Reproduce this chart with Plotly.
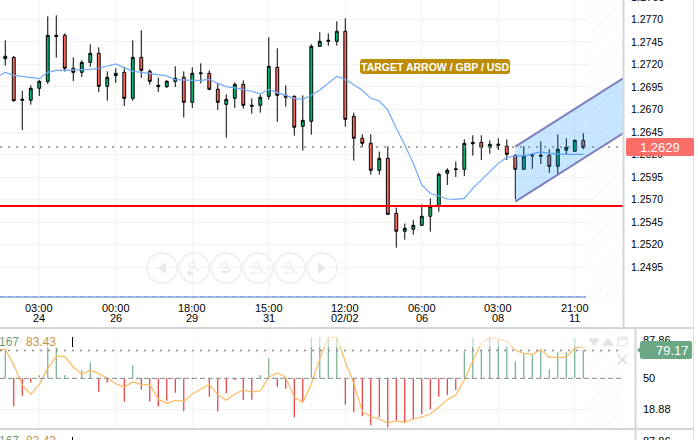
import plotly.graph_objects as go

W, H = 698, 440

# ---------- data ----------
opens = [1.27264,1.27278,1.26802,1.26802,1.26935,1.27012,1.27508,1.27522,1.27157,1.27112,1.27223,1.27323,1.26957,1.27075,1.27112,1.26824,1.27278,1.27123,1.26953,1.26953,1.27012,1.27057,1.26780,1.27097,1.27101,1.26924,1.26757,1.26824,1.26979,1.26735,1.26746,1.26846,1.27168,1.26857,1.26846,1.26514,1.26569,1.27400,1.27456,1.27456,1.27567,1.26624,1.26381,1.26325,1.26026,1.26159,1.25549,1.25350,1.25372,1.25416,1.25516,1.25630,1.25993,1.26033,1.26037,1.26321,1.26336,1.26281,1.26303,1.26292,1.26192,1.26037,1.26185,1.26181,1.26192,1.26070,1.26248,1.26236,1.26358]
highs = [1.27467,1.27293,1.26909,1.26968,1.27027,1.27733,1.27744,1.27544,1.27278,1.27245,1.27423,1.27389,1.27123,1.27157,1.27157,1.27467,1.27578,1.27145,1.27053,1.27027,1.27179,1.27123,1.27168,1.27212,1.27134,1.26990,1.26868,1.27001,1.27024,1.26824,1.26868,1.27500,1.27378,1.26968,1.26857,1.26857,1.27423,1.27556,1.27544,1.27678,1.27711,1.26665,1.26425,1.26425,1.26233,1.26292,1.25612,1.25435,1.25475,1.25645,1.25715,1.26000,1.26048,1.26122,1.26369,1.26414,1.26414,1.26358,1.26381,1.26369,1.26203,1.26292,1.26214,1.26347,1.26259,1.26425,1.26381,1.26369,1.26436]
lows = [1.27186,1.26787,1.26473,1.26754,1.26850,1.26983,1.27275,1.27120,1.27016,1.27060,1.27175,1.26894,1.26798,1.26994,1.26739,1.26798,1.27049,1.26975,1.26894,1.26939,1.26950,1.26610,1.26717,1.26990,1.26913,1.26695,1.26388,1.26717,1.26709,1.26654,1.26665,1.26809,1.26565,1.26732,1.26410,1.26244,1.26421,1.27397,1.27408,1.27408,1.26510,1.26133,1.26288,1.25978,1.25978,1.25538,1.25169,1.25257,1.25313,1.25409,1.25346,1.25568,1.25863,1.25952,1.25963,1.26188,1.26140,1.26211,1.26251,1.26140,1.25704,1.26037,1.26041,1.26096,1.25996,1.25978,1.26203,1.26236,1.26259]
closes = [1.27290,1.26798,1.26813,1.26935,1.27012,1.27522,1.27522,1.27157,1.27112,1.27223,1.27323,1.26957,1.27057,1.27101,1.26824,1.27278,1.27134,1.27012,1.26968,1.27012,1.27046,1.26780,1.27101,1.27105,1.26924,1.26780,1.26813,1.26979,1.26746,1.26746,1.26835,1.27179,1.26857,1.26835,1.26503,1.26580,1.27400,1.27456,1.27467,1.27567,1.26591,1.26381,1.26325,1.26026,1.26159,1.25538,1.25350,1.25383,1.25416,1.25516,1.25627,1.25982,1.26026,1.26041,1.26325,1.26336,1.26281,1.26314,1.26314,1.26203,1.26037,1.26181,1.26192,1.26192,1.26070,1.26259,1.26281,1.26358,1.26281]

ma_values = [1.27057,1.27112,1.27079,1.27064,1.27053,1.27042,1.27112,1.27134,1.27134,1.27138,1.27134,1.27145,1.27157,1.27182,1.27205,1.27164,1.27123,1.27112,1.27101,1.27086,1.27072,1.27031,1.27024,1.27024,1.27024,1.27035,1.26990,1.26953,1.26939,1.26924,1.26902,1.26872,1.26924,1.26887,1.26854,1.26824,1.26813,1.26857,1.26916,1.26990,1.27068,1.27035,1.26972,1.26913,1.26824,1.26794,1.26695,1.26491,1.26307,1.26103,1.25863,1.25771,1.25741,1.25708,1.25704,1.25715,1.25826,1.25919,1.26011,1.26103,1.26166,1.26185,1.26185,1.26203,1.26229,1.26214,1.26207,1.26203,1.26203,1.26203]

osc_bars = [78.4,21.6,32.6,45.7,53.0,81.1,81.1,53.3,49.0,58.4,66.1,36.6,45.7,49.3,26.6,63.0,38.6,26.6,21.6,27.6,35.6,16.9,49.0,49.0,31.6,16.9,34.9,48.3,28.6,28.6,53.3,70.1,41.6,39.6,10.9,26.6,91.2,91.2,91.2,91.2,23.6,15.9,11.9,2.8,10.9,0.8,7.8,4.8,8.8,13.9,18.9,31.6,32.9,38.3,76.1,91.2,78.1,91.2,88.5,82.1,67.1,75.1,74.1,79.1,59.0,76.1,76.1,90.2,78.1]
osc_line = [79.1,79.1,63.7,43.3,33.9,44.0,60.0,72.1,72.1,61.4,54.0,58.0,54.7,50.3,44.6,41.3,46.3,44.0,43.6,29.3,24.9,27.9,26.9,34.3,39.0,44.0,33.6,27.9,34.3,38.3,36.3,37.3,51.0,55.4,51.0,30.9,25.9,44.3,69.7,91.2,91.2,66.7,45.0,16.9,11.5,9.2,5.2,7.2,5.8,9.2,11.2,14.2,20.9,28.6,33.3,48.3,67.7,85.1,90.8,89.5,87.1,78.1,75.1,74.1,78.8,71.1,71.1,71.1,80.4,81.8]

time_tick_positions = [4, 13, 22, 31, 40, 49, 58, 67]
time_labels = ["03:00", "00:00", "18:00", "15:00", "12:00", "06:00", "03:00", "21:00"]
date_labels = ["24", "26", "29", "31", "02/02", "06", "08", "11"]
price_ticks = [1.2770,1.2745,1.2720,1.2695,1.2670,1.2645,1.2620,1.2595,1.2570,1.2545,1.2520,1.2495]
osc_ticks = [87.86, 50, 18.88]
last_price = 1.26285
support_price = 1.2563
channel_upper = [1.26288, 1.27046]
channel_lower = [1.25679, 1.26436]
channel_x = [60, 72.67]
osc_upper_level = 77.8

# ---------- geometry helpers ----------
def px(x): return x / W
def py(y): return 1 - y / H
def path(points, close=True):
    s = "M " + " L ".join(f"{px(a):.5f},{py(b):.5f}" for a, b in points)
    return s + (" Z" if close else "")
def rrect(x0, y0, x1, y1, r, notch=0):
    X = lambda v: f"{px(v):.5f}"; Y = lambda v: f"{py(v):.5f}"
    ym = (y0 + y1) / 2
    left = f"L {X(x0)},{Y(ym+notch)} L {X(x0-notch)},{Y(ym)} L {X(x0)},{Y(ym-notch)} " if notch else ""
    return (f"M {X(x0+r)},{Y(y0)} L {X(x1-r)},{Y(y0)} Q {X(x1)},{Y(y0)} {X(x1)},{Y(y0+r)} "
            f"L {X(x1)},{Y(y1-r)} Q {X(x1)},{Y(y1)} {X(x1-r)},{Y(y1)} L {X(x0+r)},{Y(y1)} "
            f"Q {X(x0)},{Y(y1)} {X(x0)},{Y(y1-r)} {left}L {X(x0)},{Y(y0+r)} Q {X(x0)},{Y(y0)} {X(x0+r)},{Y(y0)} Z")

PLOT_RIGHT = 623
x_range = [-0.62, 72.67]
idx = list(range(len(opens)))
ma_idx = list(range(-1, len(opens)))

fig = go.Figure()

# hatched, empty future area
for ya, xa, lo, hi in [("y", "x", 1.2459, 1.2792), ("y2", "x2", 0, 99.5)]:
    fig.add_trace(go.Scatter(x=[68.8, 72.67, 72.67, 68.8, 68.8], y=[lo, lo, hi, hi, lo], xaxis=xa, yaxis=ya,
                             mode="none", fill="toself", fillcolor="rgba(255,255,255,0)",
                             fillpattern=dict(shape="/", fgcolor="#f2f2f2", bgcolor="white", size=7, solidity=0.2),
                             hoverinfo="skip", showlegend=False))

fig.add_trace(go.Candlestick(x=idx, open=opens, high=highs, low=lows, close=closes, xaxis="x", yaxis="y",
                             increasing=dict(line=dict(color="#000000", width=1), fillcolor="#07b26f"),
                             decreasing=dict(line=dict(color="#000000", width=1), fillcolor="#fb6a5e"),
                             whiskerwidth=0, showlegend=False))
fig.add_trace(go.Scatter(x=ma_idx, y=ma_values, xaxis="x", yaxis="y", mode="lines",
                         line=dict(color="#6eaaf8", width=1.2), showlegend=False))

# indicator histogram as one-pixel stems from the 50 line
for keep, colour in ((lambda v: v >= 50, "#6aa784"), (lambda v: v < 50, "#e8262a")):
    xs, ys = [], []
    for i, v in zip(idx, osc_bars):
        if keep(v):
            xs += [i, i, None]
            ys += [50, v, None]
    fig.add_trace(go.Scatter(x=xs, y=ys, xaxis="x2", yaxis="y2", mode="lines",
                             line=dict(color=colour, width=1.1), connectgaps=False,
                             hoverinfo="skip", showlegend=False))
fig.add_trace(go.Scatter(x=ma_idx, y=osc_line, xaxis="x2", yaxis="y2", mode="lines",
                         line=dict(color="#ffb95e", width=1.2), showlegend=False))

shapes = []
# channel
chan = (f"M {channel_x[0]},{channel_upper[0]} L {channel_x[1]},{channel_upper[1]} "
        f"L {channel_x[1]},{channel_lower[1]} L {channel_x[0]},{channel_lower[0]} Z")
shapes.append(dict(type="path", path=chan, xref="x", yref="y", layer="above",
                   fillcolor="rgba(0,140,255,0.22)", line_width=0))
for c in (channel_upper, channel_lower):
    shapes.append(dict(type="line", x0=channel_x[0], x1=channel_x[1], y0=c[0], y1=c[1], xref="x", yref="y",
                       layer="above", line=dict(color="#7f7fbf", width=2)))
# level lines
shapes.append(dict(type="line", xref="x", yref="y", x0=x_range[0], x1=x_range[1], y0=last_price, y1=last_price,
                   layer="above", line=dict(color="#8a8a8a", width=1.5, dash="2px,6px")))
shapes.append(dict(type="line", xref="x", yref="y", x0=x_range[0], x1=x_range[1], y0=support_price, y1=support_price,
                   layer="above", line=dict(color="#ff0000", width=2)))
shapes.append(dict(type="line", xref="x2", yref="y2", x0=x_range[0], x1=x_range[1], y0=osc_upper_level, y1=osc_upper_level,
                   layer="above", line=dict(color="#8a8a8a", width=1.5, dash="2px,6px")))
shapes.append(dict(type="line", xref="x2", yref="y2", x0=x_range[0], x1=x_range[1], y0=50, y1=50,
                   layer="above", line=dict(color="#8a8a8a", width=1, dash="5px,3px")))
# fade over the top of the indicator pane
shapes.append(dict(type="rect", xref="paper", yref="paper", x0=0, x1=px(PLOT_RIGHT), y0=py(347), y1=py(329),
                   layer="above", fillcolor="rgba(255,255,255,0.55)", line_width=0))

def pline(x0, y0, x1, y1, color, width, dash=None):
    shapes.append(dict(type="line", xref="paper", yref="paper", x0=px(x0), x1=px(x1), y0=py(y0), y1=py(y1),
                       layer="above", line=dict(color=color, width=width, dash=dash)))

# blue strip under the prices
pline(0, 297, 586, 297, "#a9c4ee", 2)
pline(0, 297, 586, 297, "#7c98c8", 1, "5px,3px")
# separators
pline(0, 328, 693, 328, "#d6d6d6", 2)
pline(0, 429, 693, 429, "#d6d6d6", 2)
pline(623.5, 0, 623.5, 328, "#d6d6d6", 2)
pline(635.5, 328, 635.5, 440, "#d6d6d6", 2)
pline(693.5, 0, 693.5, 440, "#dedede", 1)
# cursor ticks
pline(72.5, 337, 72.5, 347, "#000000", 1)
pline(72.5, 437, 72.5, 440, "#000000", 1)

# zoom / pan buttons
GLY = "#e8e8e8"
for cx in [162, 194, 226, 258, 290, 322]:
    shapes.append(dict(type="circle", xref="paper", yref="paper", x0=px(cx - 15), x1=px(cx + 15),
                       y0=py(283), y1=py(253), layer="above", line=dict(color="#eeeeee", width=1.5),
                       fillcolor="rgba(255,255,255,0)"))
def glyph(points, color=GLY):
    shapes.append(dict(type="path", path=path(points), xref="paper", yref="paper", layer="above",
                       fillcolor=color, line_width=0))
glyph([(158, 268), (166, 262), (166, 274)])
glyph([(326, 268), (318, 262), (318, 274)])
for cx in [194, 226, 258, 290]:
    shapes.append(dict(type="circle", xref="paper", yref="paper", x0=px(cx - 5), x1=px(cx + 1),
                       y0=py(268), y1=py(262), layer="above", line=dict(color=GLY, width=1.2),
                       fillcolor="rgba(255,255,255,0)"))
    pline(cx, 267, cx + 5, 271, GLY, 1.5)
pline(187, 273, 193, 273, GLY, 2); pline(190, 270, 190, 276, GLY, 2)
pline(221, 272, 229, 272, GLY, 2)
pline(251, 273, 257, 273, GLY, 1.2); pline(260, 273, 266, 273, GLY, 1.2)
pline(284, 273, 289, 273, GLY, 1.2); pline(292, 273, 297, 273, GLY, 1.2)

# pane corner icons
ICON = "#e2e2e2"
glyph([(589, 340), (591, 338), (594, 339), (597, 338), (599, 340), (594, 346)], ICON)
glyph([(603, 344), (608, 338), (613, 344), (613, 346), (603, 346)], ICON)
shapes.append(dict(type="rect", xref="paper", yref="paper", x0=px(618), x1=px(627), y0=py(346), y1=py(337),
                   layer="above", line=dict(color=ICON, width=1), fillcolor="rgba(255,255,255,0)"))
pline(618, 339, 627, 339, ICON, 1.5)
pline(618, 355, 627, 364, ICON, 2); pline(627, 355, 618, 364, ICON, 2)

# label pills
shapes.append(dict(type="path", path=rrect(360, 59, 510, 74, 3), xref="paper", yref="paper", layer="above",
                   fillcolor="#bd8d07", line_width=0))
shapes.append(dict(type="path", path=rrect(626, 138, 694, 156, 2), xref="paper", yref="paper", layer="above",
                   fillcolor="#fb6e68", line_width=0))
shapes.append(dict(type="path", path=rrect(640, 341, 692, 359, 2, notch=3), xref="paper", yref="paper", layer="above",
                   fillcolor="#6aa784", line_width=0))

def note(x, y, text, color="#000000", size=11, anchor="left", weight=None):
    return dict(xref="paper", yref="paper", x=px(x), y=py(y), text=text, showarrow=False, xanchor=anchor,
                yanchor="middle", font=dict(color=color, size=size, family="Liberation Sans", weight=weight),
                borderpad=0, borderwidth=0)

annotations = [
    note(435, 66.5, "TARGET ARROW / GBP / USD", "#ffffff", 10.5, "center", "bold"),
    note(660, 147, "1.2629", "#ffffff", 13, "center"),
    note(672, 350, "79.17", "#ffffff", 13, "center"),
    note(-1, 342, "167", "#6a9c7c", 12),
    note(26, 342, "83.43", "#c8914a", 12),
    note(-1, 441, "167", "#6a9c7c", 12),
    note(26, 441, "83.43", "#c8914a", 12),
    note(643, 441, "87.86", "#000000", 11),
    note(631, -3, "1.2795", "#000000", 11),
]
# two-row time axis, placed row by row because the rows sit closer than plotly's line spacing
for pos, t, d in zip(time_tick_positions, time_labels, date_labels):
    for y_px, txt in ((308, t), (318, d)):
        annotations.append(dict(xref="x", yref="paper", x=pos, y=py(y_px), text=txt, showarrow=False,
                                xanchor="center", yanchor="middle", borderpad=0,
                                font=dict(color="#000000", size=11, family="Liberation Sans")))

axis_common = dict(range=x_range, tickvals=time_tick_positions, showgrid=True, showticklabels=False,
                   gridcolor="#f3f3f3", gridwidth=1, zeroline=False, showline=False, ticks="", fixedrange=True)

fig.update_layout(
    width=W, height=H, margin=dict(l=0, r=0, t=0, b=0), paper_bgcolor="white", plot_bgcolor="white",
    showlegend=False, boxgap=0.52, dragmode=False,
    font=dict(family="Liberation Sans", size=11, color="#000000"),
    xaxis=dict(domain=[0, px(PLOT_RIGHT)], anchor="y", rangeslider=dict(visible=False), **axis_common),
    xaxis2=dict(domain=[0, px(PLOT_RIGHT)], anchor="y2", **axis_common),
    yaxis=dict(domain=[py(300), py(0)], range=[1.24588, 1.27914], side="right", anchor="x", tickvals=price_ticks,
               tickformat=".4f", gridcolor="#f3f3f3", zeroline=False, showline=False, fixedrange=True,
               ticks="", ticklabelstandoff=7, tickfont=dict(size=10.5, color="#000000")),
    yaxis2=dict(domain=[py(428), py(329)], range=[0.14, 99.5], side="right", anchor="x2", tickvals=osc_ticks,
                ticktext=["87.86", "50", "18.88"], gridcolor="#f3f3f3", zeroline=False, showline=False, fixedrange=True,
                ticks="", ticklabelstandoff=19, tickfont=dict(size=11, color="#000000")),
    shapes=shapes, annotations=annotations,
)

fig.write_html("out.html", config=dict(displayModeBar=False),
               post_script="document.body.style.margin='0';")
